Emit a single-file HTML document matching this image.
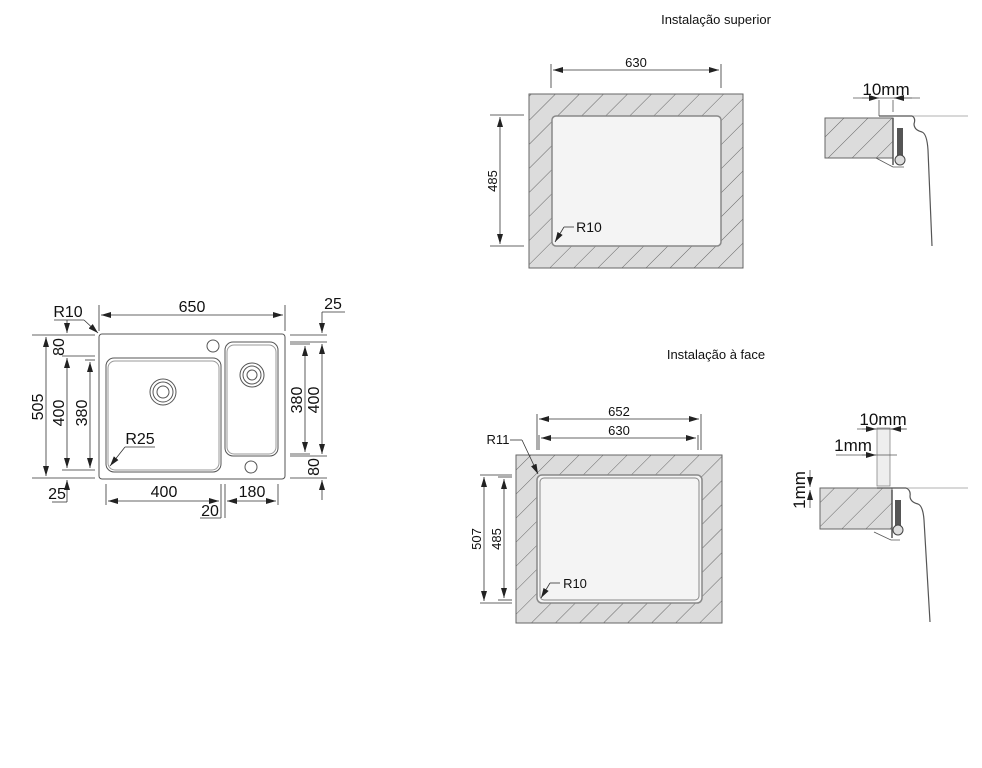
<!DOCTYPE html>
<html><head><meta charset="utf-8"><style>
html,body{margin:0;padding:0;background:#fff;}
svg{display:block;font-family:"Liberation Sans",sans-serif;}
</style></head><body>
<svg width="982" height="768" viewBox="0 0 982 768" xmlns="http://www.w3.org/2000/svg">
<defs>
<pattern id="h" patternUnits="userSpaceOnUse" width="17" height="17" patternTransform="rotate(45)">
<rect width="17" height="17" fill="#dcdcdc"/><line x1="0" y1="0" x2="0" y2="17" stroke="#666" stroke-width="1"/>
</pattern>
<marker id="a" viewBox="0 0 10 6" refX="10" refY="3" markerWidth="10" markerHeight="6" orient="auto-start-reverse" markerUnits="userSpaceOnUse"><path d="M0,0L10,3L0,6z" fill="#222"/></marker>
</defs>
<g fill="#111" font-size="14">
<text x="716" y="24" text-anchor="middle" font-size="13">Instalação superior</text>
<text x="716" y="359" text-anchor="middle" font-size="13">Instalação à face</text>
</g>

<!-- LEFT SINK -->
<g fill="none" stroke="#555" stroke-width="1">
<rect x="99" y="334" width="186" height="145" rx="3"/>
<rect x="106" y="358" width="115" height="114" rx="8"/>
<rect x="108" y="361" width="111" height="109" rx="7" stroke="#999"/>
<rect x="225" y="342" width="53" height="114" rx="8"/>
<rect x="227" y="345" width="49" height="109" rx="7" stroke="#999"/>
<circle cx="163" cy="392" r="13"/><circle cx="163" cy="392" r="10"/><circle cx="163" cy="392" r="6"/>
<circle cx="252" cy="375" r="12"/><circle cx="252" cy="375" r="9"/><circle cx="252" cy="375" r="5"/>
<circle cx="213" cy="346" r="6"/><circle cx="251" cy="467" r="6"/>
</g>
<g stroke="#333" stroke-width="0.8" fill="none">
<line x1="99" y1="305" x2="99" y2="331"/><line x1="285" y1="305" x2="285" y2="331"/>
<line x1="101" y1="315" x2="283" y2="315" marker-start="url(#a)" marker-end="url(#a)"/>
<line x1="290" y1="335" x2="327" y2="335"/><line x1="290" y1="342" x2="327" y2="342"/>
<line x1="290" y1="344" x2="310" y2="344"/><line x1="290" y1="454" x2="310" y2="454"/>
<line x1="290" y1="456" x2="327" y2="456"/><line x1="290" y1="478" x2="327" y2="478"/>
<line x1="322" y1="312" x2="322" y2="333" marker-end="url(#a)"/>
<line x1="322" y1="344" x2="322" y2="454" marker-start="url(#a)" marker-end="url(#a)"/>
<line x1="322" y1="480" x2="322" y2="500" marker-start="url(#a)"/>
<line x1="322" y1="312" x2="345" y2="312"/>
<line x1="305" y1="346" x2="305" y2="452" marker-start="url(#a)" marker-end="url(#a)"/>
<line x1="32" y1="335" x2="95" y2="335"/><line x1="32" y1="478" x2="95" y2="478"/>
<line x1="62" y1="356" x2="95" y2="356"/><line x1="62" y1="470" x2="95" y2="470"/>
<line x1="85" y1="360" x2="95" y2="360"/>
<line x1="46" y1="337" x2="46" y2="476" marker-start="url(#a)" marker-end="url(#a)"/>
<line x1="67" y1="320" x2="67" y2="333" marker-end="url(#a)"/>
<line x1="67" y1="358" x2="67" y2="468" marker-start="url(#a)" marker-end="url(#a)"/>
<line x1="67" y1="480" x2="67" y2="502" marker-start="url(#a)"/>
<line x1="90" y1="362" x2="90" y2="468" marker-start="url(#a)" marker-end="url(#a)"/>
<line x1="52" y1="502" x2="67" y2="502"/>
<line x1="106" y1="484" x2="106" y2="505"/><line x1="221" y1="484" x2="221" y2="518"/>
<line x1="225" y1="484" x2="225" y2="518"/><line x1="278" y1="484" x2="278" y2="505"/>
<line x1="108" y1="501" x2="219" y2="501" marker-start="url(#a)" marker-end="url(#a)"/>
<line x1="227" y1="501" x2="276" y2="501" marker-start="url(#a)" marker-end="url(#a)"/>
<line x1="200" y1="518" x2="221" y2="518"/>
<line x1="54" y1="320" x2="84" y2="320"/><line x1="84" y1="320" x2="98" y2="333" marker-end="url(#a)"/>
<line x1="155" y1="447" x2="125" y2="447"/><line x1="125" y1="447" x2="110" y2="466" marker-end="url(#a)"/>
</g>
<g fill="#111" font-size="16">
<text x="192" y="312" text-anchor="middle">650</text>
<text x="333" y="309" text-anchor="middle">25</text>
<text x="68" y="317" text-anchor="middle">R10</text>
<text x="140" y="444" text-anchor="middle">R25</text>
<text x="164" y="497" text-anchor="middle">400</text>
<text x="252" y="497" text-anchor="middle">180</text>
<text x="210" y="516" text-anchor="middle">20</text>
<text x="57" y="499" text-anchor="middle">25</text>
<text transform="translate(43,407) rotate(-90)" text-anchor="middle">505</text>
<text transform="translate(64,347) rotate(-90)" text-anchor="middle">80</text>
<text transform="translate(64,413) rotate(-90)" text-anchor="middle">400</text>
<text transform="translate(87,413) rotate(-90)" text-anchor="middle">380</text>
<text transform="translate(302,400) rotate(-90)" text-anchor="middle">380</text>
<text transform="translate(319,400) rotate(-90)" text-anchor="middle">400</text>
<text transform="translate(319,467) rotate(-90)" text-anchor="middle">80</text>
</g>

<!-- TOP RIGHT PANEL -->
<rect x="529" y="94" width="214" height="174" fill="url(#h)" stroke="#666"/>
<rect x="552" y="116" width="169" height="130" rx="4" fill="#f4f4f4" stroke="#888" stroke-width="1.5"/>
<g stroke="#333" stroke-width="0.8" fill="none">
<line x1="551" y1="64" x2="551" y2="88"/><line x1="721" y1="64" x2="721" y2="88"/>
<line x1="553" y1="70" x2="719" y2="70" marker-start="url(#a)" marker-end="url(#a)"/>
<line x1="490" y1="115" x2="524" y2="115"/><line x1="490" y1="246" x2="524" y2="246"/>
<line x1="500" y1="117" x2="500" y2="244" marker-start="url(#a)" marker-end="url(#a)"/>
<line x1="574" y1="227" x2="564" y2="227"/><line x1="564" y1="227" x2="555" y2="242" marker-end="url(#a)"/>
</g>
<g fill="#111" font-size="14">
<text x="636" y="67" text-anchor="middle" font-size="13">630</text>
<text transform="translate(497,181) rotate(-90)" text-anchor="middle" font-size="13">485</text>
<text x="589" y="232" text-anchor="middle">R10</text>
<text x="886" y="95" text-anchor="middle" font-size="17">10mm</text>
</g>
<!-- top side detail -->
<rect x="825" y="118" width="68" height="40" fill="url(#h)" stroke="#666"/>
<g stroke="#555" stroke-width="0.8" fill="none">
<line x1="893" y1="116" x2="968" y2="116" stroke="#999"/>
<line x1="853" y1="98" x2="920" y2="98"/>
<line x1="862" y1="98" x2="879" y2="98" marker-end="url(#a)"/>
<line x1="912" y1="98" x2="894" y2="98" marker-end="url(#a)"/>
<line x1="879" y1="100" x2="879" y2="116"/><line x1="893" y1="100" x2="893" y2="112"/>
<path d="M879,116 L912,116 Q916,118 914,124 Q914,130 922,132 Q927,134 928,150 L932,246" stroke-width="1.2"/>
<path d="M876,158 L893,167 L904,167"/>
<line x1="893" y1="118" x2="893" y2="165" stroke-width="1.5"/>
</g>
<rect x="897" y="128" width="6" height="30" fill="#555"/>
<circle cx="900" cy="160" r="5" fill="#ddd" stroke="#444"/>

<!-- BOTTOM RIGHT PANEL -->
<rect x="516" y="455" width="206" height="168" fill="url(#h)" stroke="#666"/>
<rect x="537" y="475" width="165" height="128" rx="5" fill="#f4f4f4" stroke="#888" stroke-width="1.5"/>
<rect x="540" y="478" width="159" height="122" rx="4" fill="none" stroke="#888"/>
<g stroke="#333" stroke-width="0.8" fill="none">
<line x1="537" y1="414" x2="537" y2="450"/><line x1="701" y1="414" x2="701" y2="450"/>
<line x1="539" y1="435" x2="539" y2="450"/><line x1="698" y1="435" x2="698" y2="450"/>
<line x1="539" y1="419" x2="699" y2="419" marker-start="url(#a)" marker-end="url(#a)"/>
<line x1="541" y1="438" x2="696" y2="438" marker-start="url(#a)" marker-end="url(#a)"/>
<line x1="480" y1="475" x2="512" y2="475"/><line x1="480" y1="603" x2="512" y2="603"/>
<line x1="498" y1="477" x2="512" y2="477"/><line x1="498" y1="600" x2="512" y2="600"/>
<line x1="484" y1="477" x2="484" y2="601" marker-start="url(#a)" marker-end="url(#a)"/>
<line x1="504" y1="479" x2="504" y2="598" marker-start="url(#a)" marker-end="url(#a)"/>
<line x1="510" y1="440" x2="522" y2="440"/><line x1="522" y1="440" x2="538" y2="474" marker-end="url(#a)"/>
<line x1="560" y1="583" x2="550" y2="583"/><line x1="550" y1="583" x2="541" y2="598" marker-end="url(#a)"/>
</g>
<g fill="#111" font-size="13">
<text x="619" y="416" text-anchor="middle">652</text>
<text x="619" y="435" text-anchor="middle">630</text>
<text x="498" y="444" text-anchor="middle">R11</text>
<text x="575" y="588" text-anchor="middle">R10</text>
<text transform="translate(481,539) rotate(-90)" text-anchor="middle">507</text>
<text transform="translate(501,539) rotate(-90)" text-anchor="middle">485</text>
</g>
<!-- bottom side detail -->
<rect x="877" y="428" width="13" height="58" fill="#eee" stroke="#888" stroke-width="0.8"/>
<rect x="820" y="488" width="72" height="41" fill="url(#h)" stroke="#666"/>
<g stroke="#555" stroke-width="0.8" fill="none">
<line x1="892" y1="488" x2="968" y2="488" stroke="#999"/>
<line x1="857" y1="429" x2="907" y2="429"/>
<line x1="862" y1="429" x2="876" y2="429" marker-end="url(#a)"/>
<line x1="906" y1="429" x2="891" y2="429" marker-end="url(#a)"/>
<line x1="836" y1="455" x2="897" y2="455"/>
<line x1="862" y1="455" x2="876" y2="455" marker-end="url(#a)"/>
<line x1="810" y1="470" x2="810" y2="487" marker-end="url(#a)"/>
<line x1="810" y1="508" x2="810" y2="490" marker-end="url(#a)"/>
<path d="M877,488 L906,488 Q911,490 910,496 Q910,502 918,504 Q923,506 924,520 L930,622" stroke-width="1.2"/>
<path d="M874,532 L891,540 L900,540"/>
<line x1="892" y1="490" x2="892" y2="538" stroke-width="1.5"/>
</g>
<rect x="895" y="500" width="6" height="30" fill="#555"/>
<circle cx="898" cy="530" r="5" fill="#ddd" stroke="#444"/>
<g fill="#111" font-size="17">
<text x="883" y="425" text-anchor="middle">10mm</text>
<text x="853" y="451" text-anchor="middle">1mm</text>
<text transform="translate(805,490) rotate(-90)" text-anchor="middle">1mm</text>
</g>
</svg>
</body></html>
